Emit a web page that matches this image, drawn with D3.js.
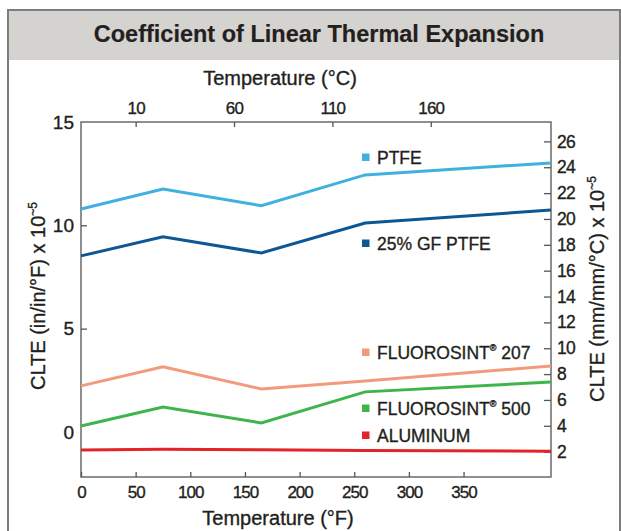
<!DOCTYPE html>
<html>
<head>
<meta charset="utf-8">
<script src="https://cdn.jsdelivr.net/npm/d3@7/dist/d3.min.js"></script>
<style>
  html, body { margin: 0; padding: 0; background: #fff; }
  svg { display: block; }
  text { font-family: "Liberation Sans", Arial, Helvetica, sans-serif; fill: #231f20; stroke: #231f20; stroke-width: 0.35px; }
</style>
</head>
<body>
<svg id="chart" width="621" height="531"></svg>
<script>
// ---------- data ----------
const title = "Coefficient of Linear Thermal Expansion";
const tempF = [0, 75, 165, 260, 430];
const seriesNames = ["PTFE", "25% GF PTFE", "FLUOROSINT", "FLUOROSINT", "ALUMINUM"];
const seriesSuffix = ["", "", " 207", " 500", ""];
const seriesReg = [false, false, true, true, false];
const ptfe   = [10.79, 11.76, 10.95, 12.44, 13.02];
const gfPtfe = [8.52, 9.44, 8.66, 10.11, 10.74];
const fl207  = [2.23, 3.15, 2.08, 2.47, 3.19];
const fl500  = [0.29, 1.21, 0.44, 1.94, 2.42];
const alum   = [-0.87, -0.84, -0.86, -0.90, -0.93];
const seriesValues = [ptfe, gfPtfe, fl207, fl500, alum];
const seriesColors = ["#3fb0e0", "#0d5795", "#f29a7e", "#3db54a", "#e32328"];
const ticksF = [0, 50, 100, 150, 200, 250, 300, 350];
const ticksC = [10, 60, 110, 160];
const ticksLeft = [0, 5, 10, 15];
const ticksRight = [2, 4, 6, 8, 10, 12, 14, 16, 18, 20, 22, 24, 26];
const xDomainF = [0, 430];
const leftDomain = [-2.18, 15];
const rightDomain = [0.04, 27.5];

// ---------- layout ----------
const W = 621, H = 531;
const plot = { left: 81, right: 551, top: 122, bottom: 477 };
const legendX = 362;
const legendYs = [157, 243, 352, 408, 435];

const svg = d3.select("#chart");

// frame + title band
svg.append("rect").attr("x", 8).attr("y", 10).attr("width", 612).attr("height", 50)
  .attr("fill", "#d5d3cf");
svg.append("rect").attr("x", 8).attr("y", 10).attr("width", 612).attr("height", 540)
  .attr("fill", "none").attr("stroke", "#7d7d7d").attr("stroke-width", 2);
svg.append("text").attr("x", 319).attr("y", 42).attr("text-anchor", "middle")
  .attr("font-size", 23.5).attr("font-weight", "bold").style("stroke-width", "0.2px").text(title);

// scales
const x = d3.scaleLinear().domain(xDomainF).range([plot.left, plot.right]);
const fToC = f => (f - 32) / 1.8;
const xc = d3.scaleLinear().domain(xDomainF.map(fToC)).range([plot.left, plot.right]);
const yL = d3.scaleLinear().domain(leftDomain).range([plot.bottom, plot.top]);
const yR = d3.scaleLinear().domain(rightDomain).range([plot.bottom, plot.top]);

// plot box
svg.append("rect").attr("x", plot.left).attr("y", plot.top)
  .attr("width", plot.right - plot.left).attr("height", plot.bottom - plot.top)
  .attr("fill", "none").attr("stroke", "#6b6b6b").attr("stroke-width", 1.5);

function styleAxis(g, fs) {
  g.select(".domain").remove();
  g.selectAll(".tick line").attr("stroke", "#555").attr("stroke-width", 1.3);
  g.selectAll(".tick text").attr("font-size", fs).attr("fill", "#231f20")
    .attr("font-family", '"Liberation Sans", Arial, sans-serif');
}

// bottom axis (°F)
const gB = svg.append("g").attr("transform", `translate(0,${plot.bottom})`)
  .call(d3.axisBottom(x).tickValues(ticksF).tickSizeInner(-5).tickSizeOuter(0).tickPadding(9));
styleAxis(gB, 17);
gB.selectAll(".tick text").attr("letter-spacing", -1);

// top axis (°C)
const gT = svg.append("g").attr("transform", `translate(0,${plot.top})`)
  .call(d3.axisTop(xc).tickValues(ticksC).tickSizeInner(-5).tickSizeOuter(0).tickPadding(8));
styleAxis(gT, 17);
gT.selectAll(".tick text").attr("letter-spacing", -0.8);

// left axis
const gL = svg.append("g").attr("transform", `translate(${plot.left},0)`)
  .call(d3.axisLeft(yL).tickValues(ticksLeft).tickSizeInner(-6).tickSizeOuter(0).tickPadding(7));
styleAxis(gL, 19);
gL.selectAll(".tick").filter(d => d === 0 || d === 15).select("line").remove();

// right axis
const gR = svg.append("g").attr("transform", `translate(${plot.right},0)`)
  .call(d3.axisRight(yR).tickValues(ticksRight).tickSizeInner(-7).tickSizeOuter(0).tickPadding(6));
styleAxis(gR, 17.5);
gR.selectAll(".tick text").attr("letter-spacing", -0.8);

// axis titles
svg.append("text").attr("x", 280).attr("y", 85).attr("text-anchor", "middle")
  .attr("font-size", 20).text("Temperature (°C)");
svg.append("text").attr("x", 278).attr("y", 525).attr("text-anchor", "middle")
  .attr("font-size", 20).text("Temperature (°F)");

function rotTitle(cx, cy, main) {
  const t = svg.append("text").attr("transform", `translate(${cx},${cy}) rotate(-90)`)
    .attr("text-anchor", "middle").attr("font-size", 20);
  t.append("tspan").text(main);
  t.append("tspan").attr("font-size", 12).attr("dy", -8).text("~5");
}
rotTitle(45, 296, "CLTE (in/in/°F) x 10");
rotTitle(604, 289, "CLTE (mm/mm/°C) x 10");

// lines
const line = d3.line().x((d, i) => x(tempF[i])).y(d => yL(d));
seriesValues.forEach((vals, i) => {
  svg.append("path").datum(vals).attr("d", line)
    .attr("fill", "none").attr("stroke", seriesColors[i]).attr("stroke-width", 3)
    .attr("stroke-linejoin", "miter");
});

// legend
seriesNames.forEach((name, i) => {
  const cy = legendYs[i];
  svg.append("rect").attr("x", legendX).attr("y", cy - 3.5).attr("width", 7.5).attr("height", 7.5)
    .attr("fill", seriesColors[i]);
  const t = svg.append("text").attr("x", legendX + 15).attr("y", cy + 6.5).attr("font-size", 17.5);
  t.append("tspan").text(name);
  if (seriesReg[i]) {
    t.append("tspan").attr("font-size", 9).attr("dy", -8).text("®");
    t.append("tspan").attr("dy", 8).text(seriesSuffix[i]);
  } else if (seriesSuffix[i]) {
    t.append("tspan").text(seriesSuffix[i]);
  }
});
</script>
</body>
</html>
